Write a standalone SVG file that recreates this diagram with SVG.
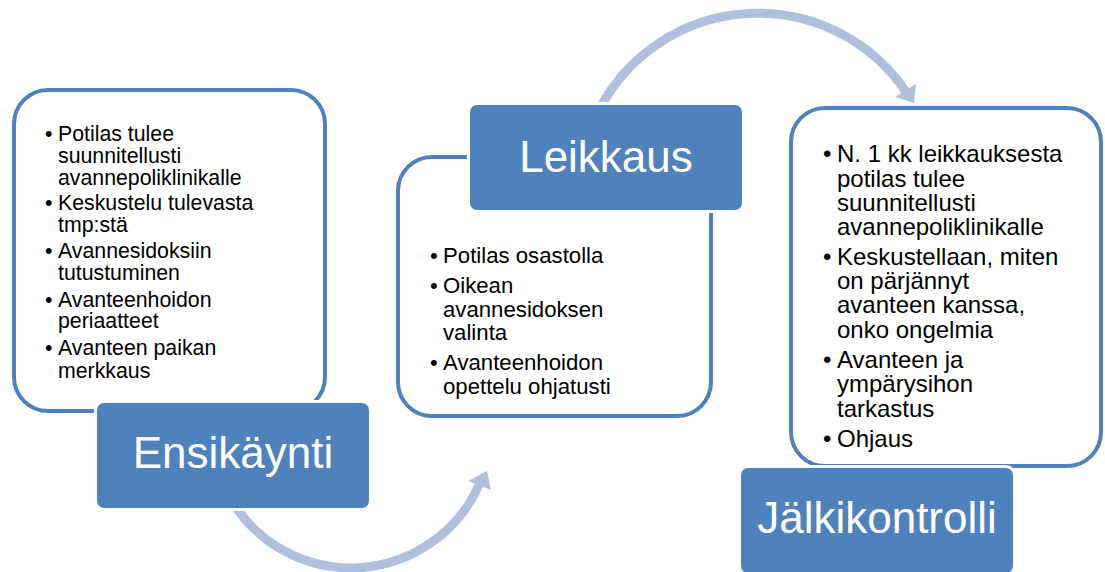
<svg xmlns="http://www.w3.org/2000/svg" width="1105" height="572" viewBox="0 0 1105 572">
<defs>
<style>
.panel{fill:#ffffff;stroke:#4F81BD;stroke-width:4}
.lab{fill:#4F81BD;stroke:#ffffff;stroke-width:6;paint-order:stroke}
.lt{font-family:"Liberation Sans",Arial,sans-serif;font-size:44px;fill:#ffffff;text-anchor:middle}
.tx{font-family:"Liberation Sans",Arial,sans-serif;fill:#000000}
.arc{fill:none;stroke:#B0C0DC;stroke-width:9}
.head{fill:#B0C0DC}
</style>
</defs>
<rect width="1105" height="572" fill="#ffffff"/>
<g id="connectors">
<path class="arc" d="M230,498 A140,140 0 0,0 479,485"/>
<polygon class="head" points="487,471 468,481 491,490"/>
<path class="arc" d="M600,108 A179,179 0 0,1 905.5,91"/>
<polygon class="head" points="914,103 895,97 916,84"/>
</g>
<g id="panel-ensikaynti">
<rect class="panel" x="14" y="90" width="311" height="321" rx="34"/>
<g class="tx" font-size="21.3">
<text x="45" y="141">•</text><text x="58" y="141">Potilas tulee</text>
<text x="58" y="163">suunnitellusti</text>
<text x="58" y="185">avannepoliklinikalle</text>
<text x="45" y="210">•</text><text x="58" y="210">Keskustelu tulevasta</text>
<text x="58" y="232">tmp:stä</text>
<text x="45" y="258">•</text><text x="58" y="258">Avannesidoksiin</text>
<text x="58" y="280">tutustuminen</text>
<text x="45" y="307">•</text><text x="58" y="307">Avanteenhoidon</text>
<text x="58" y="328">periaatteet</text>
<text x="45" y="355">•</text><text x="58" y="355">Avanteen paikan</text>
<text x="58" y="378">merkkaus</text>
</g>
</g>
<g id="panel-leikkaus">
<rect class="panel" x="398" y="157" width="313" height="259" rx="34"/>
<g class="tx" font-size="22.2">
<text x="430" y="263">•</text><text x="443" y="263">Potilas osastolla</text>
<text x="430" y="293">•</text><text x="443" y="293">Oikean</text>
<text x="443" y="317">avannesidoksen</text>
<text x="443" y="340">valinta</text>
<text x="430" y="370">•</text><text x="443" y="370">Avanteenhoidon</text>
<text x="443" y="394">opettelu ohjatusti</text>
</g>
</g>
<g id="panel-jalkikontrolli">
<rect class="panel" x="791" y="108" width="310" height="358" rx="34"/>
<g class="tx" font-size="24">
<text x="823" y="162">•</text><text x="837" y="162">N. 1 kk leikkauksesta</text>
<text x="837" y="187">potilas tulee</text>
<text x="837" y="211">suunnitellusti</text>
<text x="837" y="235">avannepoliklinikalle</text>
<text x="823" y="265">•</text><text x="837" y="265">Keskustellaan, miten</text>
<text x="837" y="289">on pärjännyt</text>
<text x="837" y="313">avanteen kanssa,</text>
<text x="837" y="338">onko ongelmia</text>
<text x="823" y="368">•</text><text x="837" y="368">Avanteen ja</text>
<text x="837" y="392">ympärysihon</text>
<text x="837" y="417">tarkastus</text>
<text x="823" y="447">•</text><text x="837" y="447">Ohjaus</text>
</g>
</g>
<g id="node-ensikaynti">
<rect class="lab" x="97" y="403" width="272" height="105" rx="7"/>
<text class="lt" x="233" y="468">Ensikäynti</text>
</g>
<g id="node-leikkaus">
<rect class="lab" x="470" y="105" width="272" height="105" rx="7"/>
<text class="lt" x="606" y="172">Leikkaus</text>
</g>
<g id="node-jalkikontrolli">
<rect class="lab" x="741" y="468" width="272" height="105" rx="7"/>
<text class="lt" x="877" y="533">Jälkikontrolli</text>
</g>
</svg>
